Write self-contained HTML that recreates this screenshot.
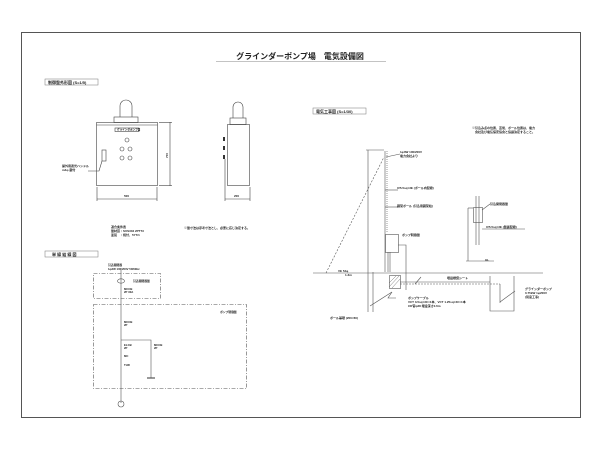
<!DOCTYPE html>
<html><head><meta charset="utf-8"><style>
html,body{margin:0;padding:0;background:#fff;}
svg{display:block;}
text{font-family:"Liberation Sans","Noto Sans CJK JP",sans-serif;fill:#222;font-weight:bold;}
</style></head><body>
<svg width="600" height="450" viewBox="0 0 600 450" xmlns="http://www.w3.org/2000/svg">
<rect x="0" y="0" width="600" height="450" fill="#fff"/>
<rect x="21.5" y="32.5" width="559" height="385" fill="none" stroke="#555" stroke-width="1"/>
<text x="300" y="59" font-size="8" font-weight="bold" text-anchor="middle">グラインダーポンプ場　電気設備図</text>
<line x1="216" y1="61.5" x2="386" y2="61.5" stroke="#888" stroke-width="0.6"/>
<g font-size="4" font-weight="bold">
<rect x="45" y="79" width="53" height="6" fill="none" stroke="#777" stroke-width="0.5"/>
<text x="48" y="84">制御盤外形図 (S=1/5)</text>
<rect x="313" y="108" width="53" height="6" fill="none" stroke="#777" stroke-width="0.5"/>
<text x="316" y="113">電気工事図 (S=1/30)</text>
<rect x="45" y="251" width="53" height="6" fill="none" stroke="#777" stroke-width="0.5"/>
<text x="52" y="256">単 線 結 線 図</text>
</g>
<g stroke="#444" stroke-width="0.6" fill="none">
<rect x="96.5" y="122.5" width="61" height="63"/>
<line x1="96.5" y1="125" x2="157.5" y2="125"/>
<rect x="114" y="117" width="24" height="5.5"/>
<path d="M120 117 V106 a6 6 0 0 1 12 0 V117"/>
<rect x="115" y="128" width="24" height="3.5"/>
<circle cx="127" cy="140" r="2"/><circle cx="122" cy="149" r="2"/><circle cx="130" cy="149" r="2"/>
<circle cx="122" cy="158" r="2"/><circle cx="130" cy="158" r="2"/>
<rect x="102" y="150" width="4" height="11"/>
<line x1="97" y1="187" x2="97" y2="201"/><line x1="157" y1="187" x2="157" y2="201"/>
<line x1="97" y1="199" x2="157" y2="199"/>
<line x1="159" y1="122.5" x2="172" y2="122.5"/><line x1="159" y1="185.5" x2="172" y2="185.5"/>
<line x1="170" y1="122" x2="170" y2="186"/>
<polyline points="88,171 99,171 102,161"/>
<rect x="227.5" y="124.5" width="22" height="61"/>
<rect x="230" y="118" width="16" height="6.5"/>
<path d="M233 118 V107 a5 5 0 0 1 10 0 V118"/>
<line x1="225" y1="159" x2="225" y2="201"/><line x1="250" y1="187" x2="250" y2="201"/>
<line x1="225" y1="199" x2="250" y2="199"/>
</g>
<g fill="#333"><rect x="223" y="137" width="2" height="4"/><rect x="223" y="146" width="2" height="4"/><rect x="223" y="155" width="2" height="4"/></g>
<g font-size="3">
<text x="117" y="130.5" font-size="2.6">グラインダポンプ盤</text>
<text x="62" y="167">屋外用遮光ハンドル</text><text x="62" y="171">m4φ 鍵付</text>
<text x="124" y="197">500</text><text x="234" y="197">200</text>
<text x="165" y="155" transform="rotate(-90 168 155)">700</text>
<text x="111" y="228">適合条件表</text>
<text x="111" y="232">盤材質：SUS304 2PT73</text>
<text x="111" y="236">塗装　：焼付、5Y7/1</text>
<text x="184" y="229">※盤寸法は参考寸法とし、必要に応じ決定する。</text>
</g>
<g stroke="#555" stroke-width="0.6" fill="none">
<rect x="93.5" y="273.5" width="67" height="25" stroke-dasharray="4 1.5 1 1.5"/>
<rect x="93.5" y="304.5" width="153" height="84" stroke-dasharray="4 1.5 1 1.5"/>
<line x1="121" y1="270" x2="121" y2="403"/>
<polyline points="121,340 151,340 151,378"/>
<line x1="147" y1="378" x2="155" y2="378" stroke-width="1.2"/>
<ellipse cx="121" cy="281" rx="3.5" ry="2.2"/>
<circle cx="121" cy="404" r="3"/>
</g>
<g font-size="2.8">
<text x="108" y="266">引込開閉器</text><text x="108" y="270">1φ3W 100/200V 50/60Hz</text>
<text x="133" y="282">引込開閉器盤</text>
<text x="124" y="290">MCCB</text><text x="124" y="293">2P 30A</text>
<text x="220" y="313">ポンプ制御盤</text>
<text x="124" y="323">MCCB</text><text x="124" y="326">2P</text>
<text x="124" y="346">ELCB</text><text x="124" y="349">2P</text>
<text x="154" y="346">MCCB</text><text x="154" y="349">2P</text>
<text x="124" y="357">MC</text><text x="124" y="366">THR</text>
</g>
<g stroke="#555" stroke-width="0.6" fill="none">
<line x1="313" y1="273" x2="543" y2="273"/>
<line x1="385" y1="151" x2="385" y2="272"/>
<line x1="387" y1="151" x2="387" y2="233" stroke-dasharray="1 1"/>
<line x1="326" y1="273" x2="384" y2="157" stroke-dasharray="2 1.5"/>
<line x1="366" y1="150" x2="384" y2="150"/>
<line x1="368" y1="150" x2="368" y2="312"/>
<line x1="373" y1="272" x2="373" y2="312"/>
<rect x="385.5" y="234.5" width="13" height="18"/>
<line x1="388" y1="252" x2="388" y2="272"/>
<line x1="390" y1="252" x2="390" y2="272"/>
<polyline points="398,245 406,245 406,290"/>
<rect x="389.5" y="275.5" width="11" height="13"/>
<line x1="389" y1="287" x2="399" y2="276" stroke-width="0.4"/>
<line x1="389" y1="283" x2="396" y2="276" stroke-width="0.4"/>
<line x1="392" y1="288" x2="400" y2="279" stroke-width="0.4"/>
<polyline points="392,292 388,298 396,298"/>
<line x1="370" y1="306" x2="392" y2="292"/>
<line x1="400" y1="282" x2="490" y2="282"/>
<line x1="400" y1="284" x2="500" y2="284" stroke-dasharray="2 1"/>
<polyline points="490,276 490,311 514,311 514,276"/>
<polyline points="500,284 500,303"/>
<line x1="500" y1="302" x2="515" y2="291"/>
<line x1="385" y1="190" x2="398" y2="190"/><line x1="385" y1="207" x2="398" y2="207"/>
<line x1="386" y1="157" x2="400" y2="154"/>
<line x1="476" y1="196" x2="476" y2="245"/>
<line x1="479" y1="196" x2="479" y2="245"/>
<rect x="473.5" y="207.5" width="9" height="15"/>
<line x1="468" y1="208" x2="473" y2="208"/>
<line x1="468" y1="208" x2="468" y2="261"/>
<line x1="466" y1="261" x2="494" y2="261"/>
<line x1="482" y1="229" x2="525" y2="229"/>
<line x1="482" y1="210" x2="490" y2="204"/>
<line x1="415" y1="284" x2="421" y2="277"/>
</g>
<g font-size="3">
<text x="400" y="153">1φ3W 100/200V</text><text x="400" y="157">電力会社より</text>
<text x="397" y="189">IV5.5sq×3E (ポール内配線)</text>
<text x="397" y="207">鋼管ポール (引込用鋼管柱)</text>
<text x="402" y="236">ポンプ制御盤</text>
<text x="472" y="129">※引込み点の位置、高低、ポール位置は、電力</text>
<text x="472" y="133">　会社及び電気保安協会と協議決定すること。</text>
<text x="490" y="205">引込開閉器盤</text>
<text x="486" y="228">IV5.5sq×3E (盤裏配線)</text>
<text x="338" y="272">VE 54φ</text><text x="345" y="276">1.3m</text>
<text x="447" y="279">埋設標識シート</text>
<text x="408" y="299">ポンプケーブル</text>
<text x="408" y="303">VCT 3.5sq×3C×1本、VCT 1.25sq×2C×1本</text>
<text x="408" y="307">CD管φ28 埋設深さ0.6m</text>
<text x="525" y="290">グラインダーポンプ</text>
<text x="525" y="294">0.75kW 1φ200V</text>
<text x="525" y="298">(別途工事)</text>
<text x="330" y="319">ポール基礎 (200×60)</text>
<text x="485" y="261">GL</text>
</g>
</svg>
</body></html>
